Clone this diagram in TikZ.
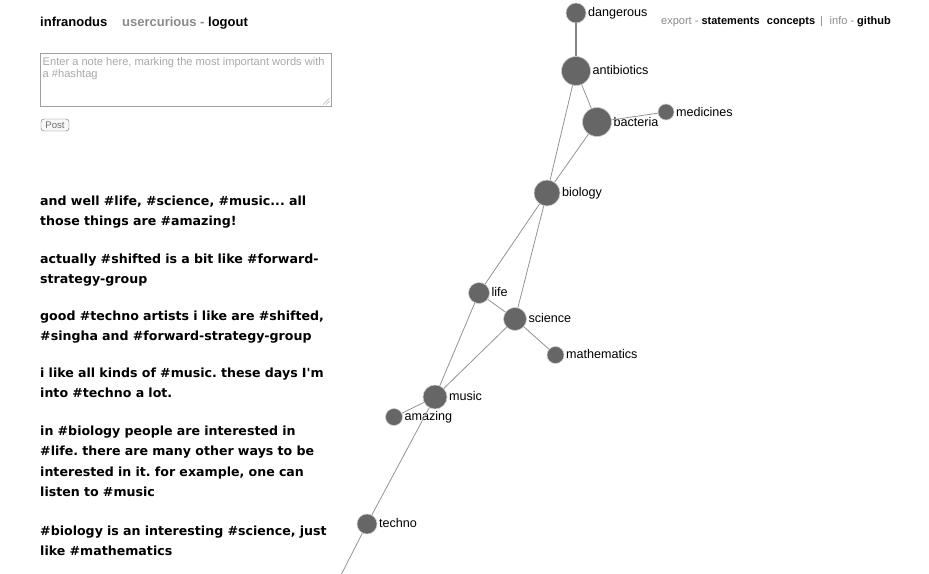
\documentclass[tikz,border=0pt]{standalone}
\usepackage{fontspec}
\setmainfont{Liberation Sans}
\newfontfamily\statefont{DejaVu Sans}
\frenchspacing
\definecolor{nodegray}{HTML}{666666}
\definecolor{edgegray}{HTML}{939393}
\definecolor{hdrgray}{HTML}{8A8A8A}
\definecolor{boxgray}{HTML}{A0A0A0}
\definecolor{holdergray}{HTML}{A8A8A8}
\begin{document}
\begin{tikzpicture}[x=1pt,y=-1pt,
    concept/.style={circle,fill=nodegray,draw=white!80!black,line width=.6pt,inner sep=0pt,minimum size=#1},
    concept/.default=18pt,
    lbl/.style={font=\fontsize{12.6}{14}\selectfont,inner sep=1.5pt,text height=9pt,text depth=2.6pt},
    link/.style={draw=edgegray,line width=.8pt},
    hdr/.style={anchor=base west,inner sep=0pt,font=\bfseries\fontsize{13}{15}\selectfont},
    stmt/.style={anchor=base west,inner sep=0pt,text width=310pt,align=left,
      font=\statefont\bfseries\fontsize{12.6}{20.6}\selectfont}]
  \useasboundingbox (0,0) rectangle (929,573);
  \clip (0,0) rectangle (929,573);
  % header
  \node[hdr] (brand) at (40,26) {infranodus};
  \node[hdr] (user) at (122,26) {\textcolor{hdrgray}{usercurious -} logout};
  \node[hdr,font=\fontsize{11}{13}\selectfont] (menu) at (661,24)
    {\textcolor{hdrgray}{export -} \textbf{statements}\,\enspace\textbf{concepts}
     \textcolor{hdrgray}{\,|\,\, info -} \textbf{github}};
  % note box
  \draw[boxgray,line width=1pt] (40,53) rectangle (331,106);
  \node[anchor=north west,inner sep=0pt,align=left,text=holdergray,
    font=\fontsize{11.1}{12}\selectfont] (holder) at (42.5,57.5)
    {Enter a note here, marking the most important words with\\a \#hashtag};
  \draw[gray,line width=.5pt,dash pattern=on .8pt off .6pt] (323,104.5) -- (329.5,98)
    (326,104.5) -- (329.5,101);
  \draw[gray!85!black,fill=gray!6,rounded corners=3pt] (41,119) rectangle node[font=\fontsize{9.6}{10}\selectfont] (post) {Post} (69,131);
  % statements
  \node[stmt] (s1) at (40,205) {and well \#life, \#science, \#music... all\\those things are \#amazing!};
  \node[stmt] (s2) at (40,263) {actually \#shifted is a bit like \#forward-\\strategy-group};
  \node[stmt] (s3) at (40,320) {good \#techno artists i like are \#shifted,\\\#singha and \#forward-strategy-group};
  \node[stmt] (s4) at (40,377) {i like all kinds of \#music. these days I'm\\into \#techno a lot.};
  \node[stmt] (s5) at (40,435) {in \#biology people are interested in\\\#life. there are many other ways to be\\interested in it. for example, one can\\listen to \#music};
  \node[stmt] (s6) at (40,535) {\#biology is an interesting \#science, just\\like \#mathematics};
  % graph
  \node[concept=20pt,label={[lbl]east:dangerous}] (dangerous) at (576,13) {};
  \node[concept=29pt,label={[lbl]east:antibiotics}] (antibiotics) at (576,71) {};
  \node[concept=29pt,label={[lbl,yshift=-1.5pt]east:bacteria}] (bacteria) at (597,122) {};
  \node[concept=16pt,label={[lbl,yshift=-1pt]east:medicines}] (medicines) at (666,112) {};
  \node[concept=26pt,label={[lbl]east:biology}] (biology) at (547,193) {};
  \node[concept=21pt,label={[lbl]east:life}] (life) at (479,293) {};
  \node[concept=23pt,label={[lbl]east:science}] (science) at (515,319) {};
  \node[concept=17pt,label={[lbl]east:mathematics}] (mathematics) at (555.5,355) {};
  \node[concept=24pt,label={[lbl]east:music}] (music) at (435,397) {};
  \node[concept=17pt,label={[lbl]east:amazing}] (amazing) at (394,417) {};
  \node[concept=20pt,label={[lbl]east:techno}] (techno) at (367,524) {};
  \coordinate (offbottom) at (340,577);
  \draw[link,line width=2pt,draw=edgegray!90!black] (dangerous) -- (antibiotics);
  \draw[link] (antibiotics) -- (bacteria)
    (antibiotics) -- (biology)
    (bacteria) -- (medicines)
    (bacteria) -- (biology)
    (biology) -- (life)
    (biology) -- (science)
    (life) -- (science)
    (life) -- (music)
    (science) -- (mathematics)
    (science) -- (music)
    (music) -- (amazing)
    (music) -- (techno)
    (techno) -- (offbottom);
\end{tikzpicture}
\end{document}
